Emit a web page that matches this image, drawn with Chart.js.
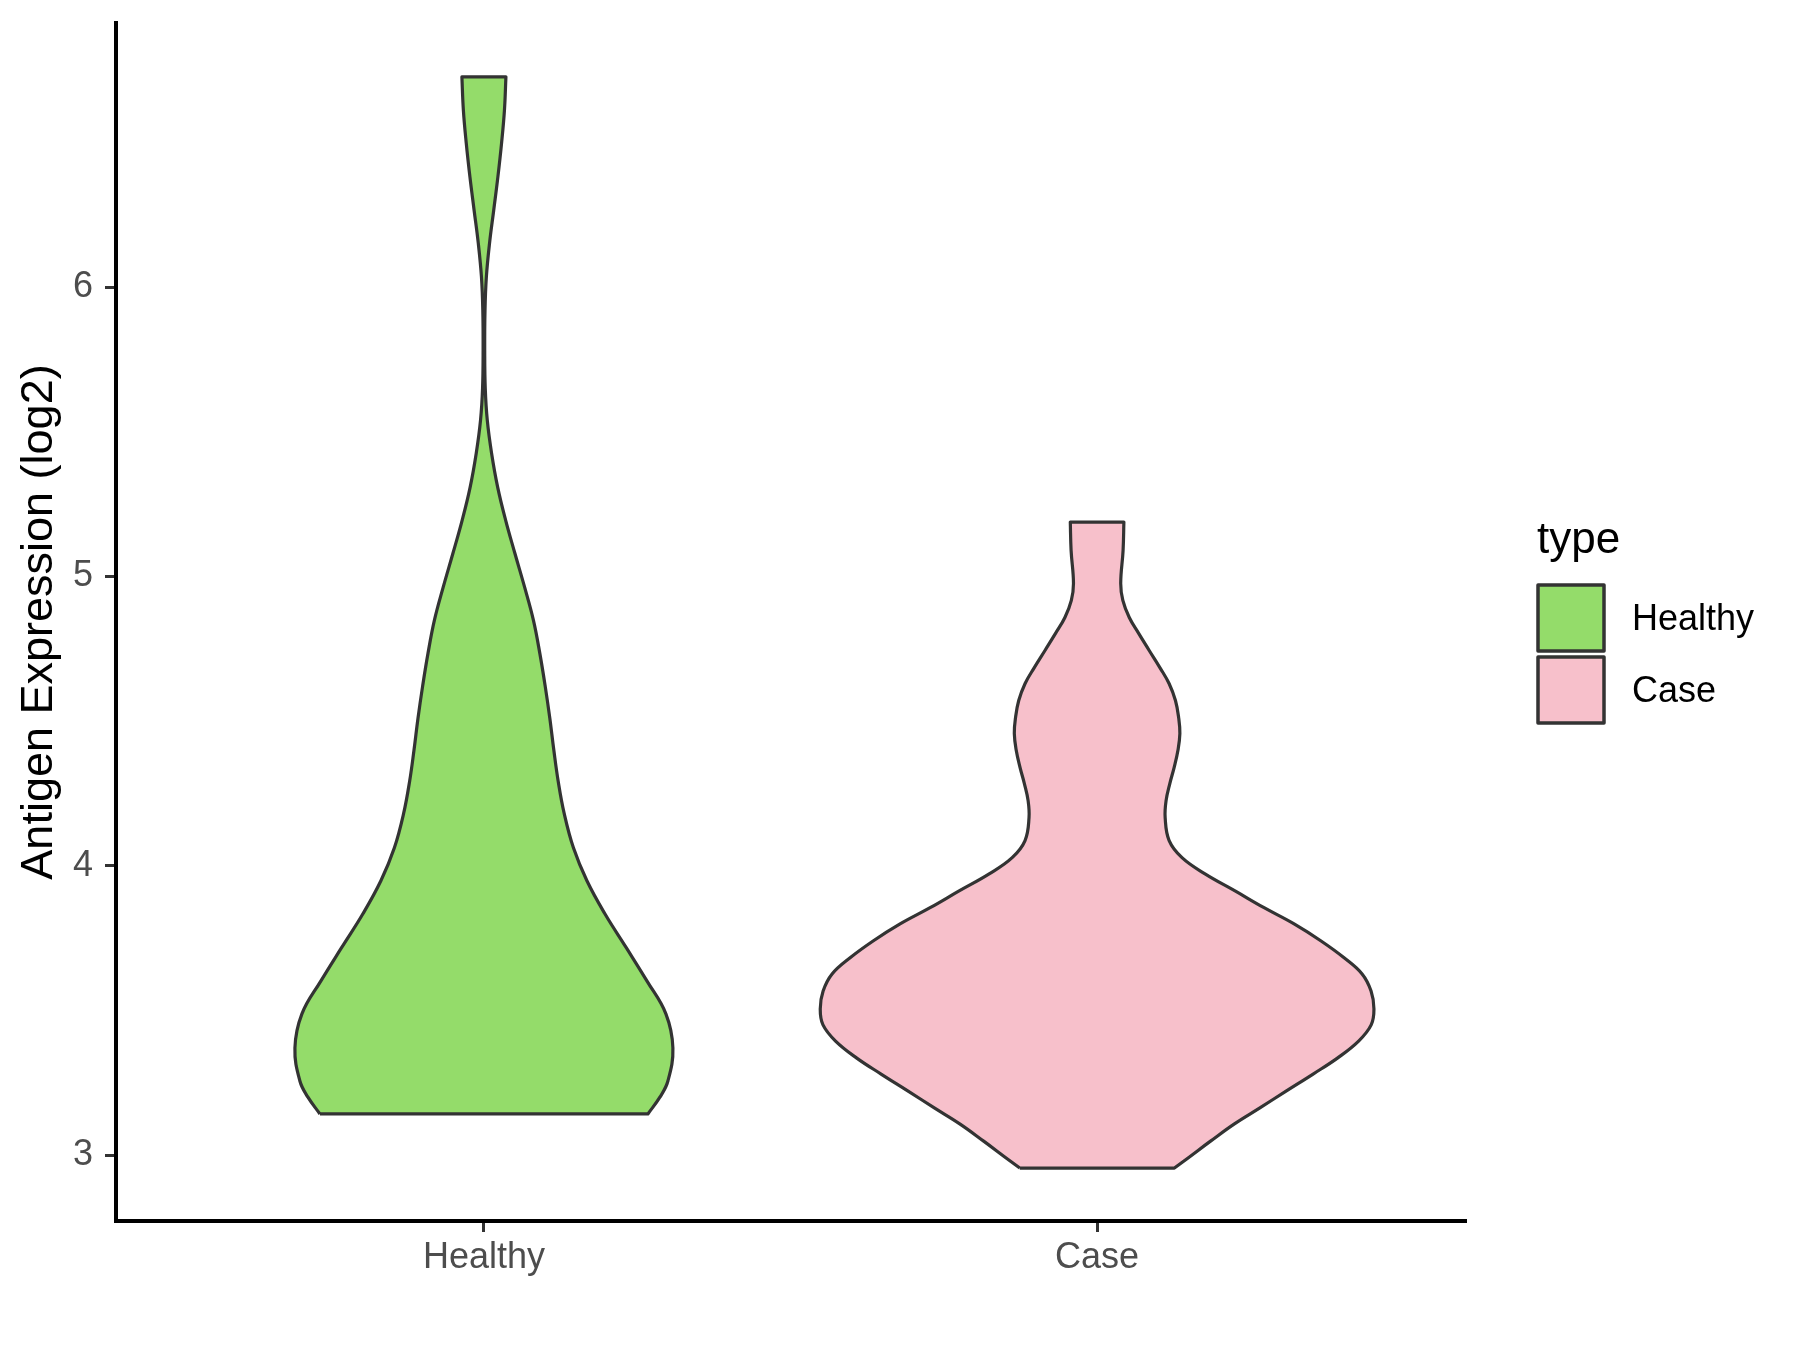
<!DOCTYPE html>
<html>
<head>
<meta charset="utf-8">
<title>Antigen Expression violin</title>
<script src="https://cdn.jsdelivr.net/npm/chart.js@4.4.1/dist/chart.umd.min.js"></script>
<style>
  html, body { margin: 0; padding: 0; background: #ffffff; }
  #wrap { width: 1800px; height: 1350px; }
</style>
</head>
<body>
<div id="wrap"><canvas id="violin" width="1800" height="1350"></canvas></div>
<script>
'use strict';

// ── DATA ──────────────────────────────────────────────────────
const categories = ['Healthy', 'Case'];
const fillColors = ['#94DC6A', '#F7C0CB'];
const yTicks     = [3, 4, 5, 6];

// expression level (log2) from bottom to top, and violin half-width in category units
const healthyLevels = [3.142, 3.200, 3.256, 3.370, 3.488, 3.602, 3.716, 3.834, 3.948, 4.062,
                       4.180, 4.294, 4.400, 4.510, 4.620, 4.734, 4.848, 4.962, 5.080, 5.194,
                       5.308, 5.426, 5.540, 5.650, 5.782, 5.920, 6.035, 6.152, 6.266, 6.381,
                       6.498, 6.612, 6.727];
const healthyWidths = [0.2674, 0.2870, 0.3001, 0.3082, 0.2968, 0.2658, 0.2324, 0.1973, 0.1680, 0.1460,
                       0.1310, 0.1210, 0.1140, 0.1075, 0.1000, 0.0912, 0.0808, 0.0665, 0.0505, 0.0355,
                       0.0225, 0.0125, 0.0055, 0.0022, 0.0013, 0.0018, 0.0040, 0.0092, 0.0160, 0.0228,
                       0.0288, 0.0335, 0.0359];

const caseLevels = [2.955, 2.990, 3.048, 3.107, 3.163, 3.221, 3.280, 3.336, 3.394, 3.450,
                    3.505, 3.567, 3.626, 3.682, 3.740, 3.799, 3.855, 3.913, 3.972, 4.028,
                    4.087, 4.166, 4.225, 4.284, 4.339, 4.398, 4.457, 4.512, 4.571, 4.630,
                    4.685, 4.744, 4.803, 4.858, 4.917, 4.976, 5.090, 5.188];
const caseWidths = [0.1261, 0.1484, 0.1850, 0.2234, 0.2655, 0.3082, 0.3523, 0.3925, 0.4265, 0.4470,
                    0.4515, 0.4468, 0.4322, 0.4028, 0.3653, 0.3213, 0.2723, 0.2250, 0.1760, 0.1385,
                    0.1175, 0.1110, 0.1125, 0.1186, 0.1256, 0.1318, 0.1350, 0.1330, 0.1278, 0.1174,
                    0.1024, 0.0850, 0.0678, 0.0525, 0.0420, 0.0385, 0.0424, 0.0437];

const FONT = "'Liberation Sans', Arial, sans-serif";

// ── HELPERS ───────────────────────────────────────────────────

/** Closed outline: up the left side, across the top, down the right side, back across the bottom.
    Corner points are doubled so the spline keeps the caps flat. */
function violinOutline(center, levels, widths) {
  const n = levels.length;
  const pts = [];
  for (let i = 0; i < n; i++) pts.push({ x: center - widths[i], y: levels[i] });
  pts.push({ x: center - widths[n - 1], y: levels[n - 1] });
  pts.push({ x: center + widths[n - 1], y: levels[n - 1] });
  for (let i = n - 1; i >= 0; i--) pts.push({ x: center + widths[i], y: levels[i] });
  pts.push({ x: center + widths[0], y: levels[0] });
  pts.push({ x: center - widths[0], y: levels[0] });
  pts.push({ x: center - widths[0], y: levels[0] });
  return pts;
}

function violinDataset(idx, levels, widths) {
  return {
    label: categories[idx],
    data: violinOutline(idx + 1, levels, widths),
    showLine: true,
    fill: 'shape',
    tension: 0.4,
    backgroundColor: fillColors[idx],
    borderColor: '#333333',
    borderWidth: 3.2,
    borderJoinStyle: 'round',
    pointRadius: 0,
    pointHoverRadius: 0,
  };
}

// ggplot-style legend on the right
const typeLegend = {
  id: 'typeLegend',
  afterDraw(chart) {
    const { ctx, chartArea } = chart;
    const x0 = chartArea.right + 73;
    ctx.save();
    ctx.fillStyle = '#000000';
    ctx.font = `44px ${FONT}`;
    ctx.textBaseline = 'alphabetic';
    ctx.textAlign = 'left';
    ctx.fillText('type', x0 - 1, 553);
    const box = 66;
    categories.forEach((cat, i) => {
      const top = 585 + i * 72;
      ctx.fillStyle = fillColors[i];
      ctx.fillRect(x0, top, box, box);
      ctx.lineWidth = 3.5;
      ctx.strokeStyle = '#333333';
      ctx.lineJoin = 'round';
      ctx.strokeRect(x0, top, box, box);
      ctx.fillStyle = '#000000';
      ctx.font = `36px ${FONT}`;
      ctx.textBaseline = 'middle';
      ctx.fillText(cat, x0 + 94, top + box / 2 + 2);
    });
    ctx.restore();
  },
};

// ── CHART ─────────────────────────────────────────────────────
new Chart(document.getElementById('violin'), {
  type: 'scatter',
  data: {
    datasets: [
      violinDataset(0, healthyLevels, healthyWidths),
      violinDataset(1, caseLevels, caseWidths),
    ],
  },
  options: {
    responsive: false,
    devicePixelRatio: 1,
    animation: false,
    layout: { padding: { top: 23, right: 335, bottom: 0, left: 0 } },
    plugins: {
      legend: { display: false },
      tooltip: { enabled: false },
    },
    scales: {
      x: {
        type: 'linear',
        min: 0.4,
        max: 2.6,
        afterBuildTicks: s => { s.ticks = categories.map((_, i) => ({ value: i + 1 })); },
        afterFit: s => { s.height = 129; s.paddingLeft = 0; s.paddingRight = 0; },
        ticks: {
          callback: v => categories[v - 1],
          font: { family: FONT, size: 36 },
          color: '#4D4D4D',
          padding: 4,
          maxRotation: 0,
        },
        grid: { display: true, drawOnChartArea: false, tickLength: 11, color: '#333333', lineWidth: 3 },
        border: { display: true, color: '#000000', width: 4 },
      },
      y: {
        type: 'linear',
        min: 2.772,
        max: 6.913,
        afterBuildTicks: s => { s.ticks = yTicks.map(v => ({ value: v })); },
        afterFit: s => { s.width = 116; s.paddingTop = 0; s.paddingBottom = 0; },
        ticks: {
          font: { family: FONT, size: 36 },
          color: '#4D4D4D',
          padding: 12,
        },
        grid: { display: true, drawOnChartArea: false, tickLength: 11, color: '#333333', lineWidth: 3 },
        border: { display: true, color: '#000000', width: 4 },
        title: {
          display: true,
          text: 'Antigen Expression (log2)',
          font: { family: FONT, size: 45 },
          color: '#000000',
          padding: { top: 13, bottom: 0 },
        },
      },
    },
  },
  plugins: [typeLegend],
});
</script>
</body>
</html>
